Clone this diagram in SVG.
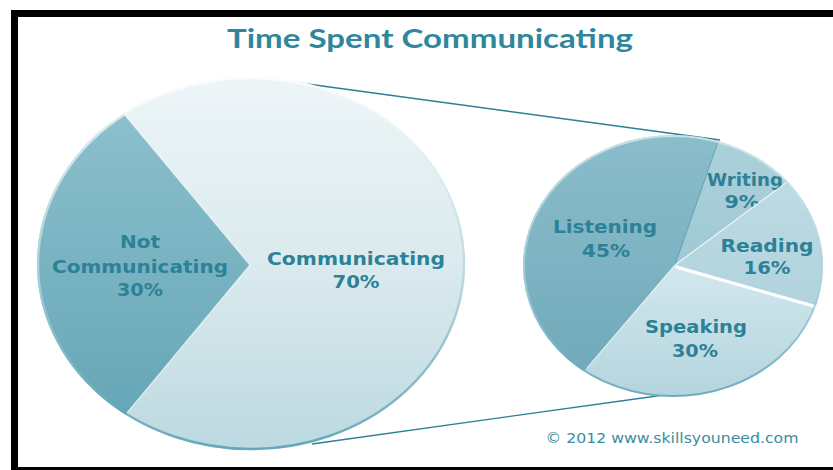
<svg xmlns="http://www.w3.org/2000/svg" width="833" height="470" viewBox="0 0 833 470">
<style>
.lbl{font-family:"DejaVu Sans","Liberation Sans",sans-serif;font-weight:bold;font-size:18px;fill:#2c8196;text-anchor:middle}
.conn{stroke:#2a7f94;stroke-width:1.3;fill:none}
.edge{stroke:#ffffff;stroke-opacity:0.6;stroke-width:1.5;fill:none}
</style>
<defs>
<linearGradient id="gComm" gradientUnits="userSpaceOnUse" x1="0" y1="77" x2="0" y2="450">
<stop offset="0" stop-color="#edf5f7"/><stop offset="0.5" stop-color="#dbeaee"/><stop offset="1" stop-color="#bcd9e1"/>
</linearGradient>
<linearGradient id="gNot" gradientUnits="userSpaceOnUse" x1="0" y1="110" x2="0" y2="415">
<stop offset="0" stop-color="#8cc0cd"/><stop offset="1" stop-color="#66a6b7"/>
</linearGradient>
<linearGradient id="gRimBig" gradientUnits="userSpaceOnUse" x1="0" y1="77" x2="0" y2="450">
<stop offset="0" stop-color="#ffffff"/><stop offset="0.5" stop-color="#b9d8e0"/><stop offset="1" stop-color="#4f9bb0"/>
</linearGradient>
<linearGradient id="gListen" gradientUnits="userSpaceOnUse" x1="0" y1="135" x2="0" y2="397">
<stop offset="0" stop-color="#8bbdcb"/><stop offset="1" stop-color="#6ea8b9"/>
</linearGradient>
<linearGradient id="gWrite" gradientUnits="userSpaceOnUse" x1="0" y1="135" x2="0" y2="270">
<stop offset="0" stop-color="#acd1db"/><stop offset="1" stop-color="#9fc8d4"/>
</linearGradient>
<linearGradient id="gRead" gradientUnits="userSpaceOnUse" x1="0" y1="180" x2="0" y2="310">
<stop offset="0" stop-color="#bddbe3"/><stop offset="1" stop-color="#b0d3dd"/>
</linearGradient>
<linearGradient id="gSpeak" gradientUnits="userSpaceOnUse" x1="0" y1="265" x2="0" y2="397">
<stop offset="0" stop-color="#d2e8ee"/><stop offset="1" stop-color="#b4d4dd"/>
</linearGradient>
<linearGradient id="gRimSmall" gradientUnits="userSpaceOnUse" x1="0" y1="135" x2="0" y2="397">
<stop offset="0" stop-color="#d8eaef"/><stop offset="0.6" stop-color="#a8cdd8"/><stop offset="1" stop-color="#5a9fb2"/>
</linearGradient>
<clipPath id="cBig"><ellipse cx="251" cy="263.5" rx="214" ry="186.5"/></clipPath>
<clipPath id="cSmall"><ellipse cx="673" cy="266" rx="150" ry="131"/></clipPath>
</defs>
<rect x="0" y="0" width="833" height="470" fill="#ffffff"/>
<rect x="14.5" y="13.5" width="840" height="457" fill="none" stroke="#000000" stroke-width="7"/>
<text x="430" y="48" font-family="Lato,'Open Sans',sans-serif" font-weight="bold" font-size="27" fill="#2f879c" text-anchor="middle" textLength="406" lengthAdjust="spacingAndGlyphs">Time Spent Communicating</text>
<g id="connectors">
<line class="conn" x1="278" y1="80" x2="720" y2="140"/>
<line class="conn" x1="312" y1="444" x2="664" y2="395"/>
</g>
<g id="communicating">
<ellipse cx="251" cy="263.5" rx="214" ry="186.5" fill="url(#gComm)"/>
<text class="lbl" x="356" y="265" textLength="178" lengthAdjust="spacingAndGlyphs">Communicating</text>
<text class="lbl" x="356" y="288" textLength="47" lengthAdjust="spacingAndGlyphs">70%</text>
</g>
<g id="not-communicating">
<polygon points="250,265 0,-35 -100,-35 -100,561 4,561" fill="url(#gNot)" clip-path="url(#cBig)"/>
<polyline class="edge" points="125,115 250,265 127,413"/>
<text class="lbl" x="140" y="248" textLength="40" lengthAdjust="spacingAndGlyphs">Not</text>
<text class="lbl" x="140" y="273" textLength="176" lengthAdjust="spacingAndGlyphs">Communicating</text>
<text class="lbl" x="140" y="296" textLength="46" lengthAdjust="spacingAndGlyphs">30%</text>
</g>
<ellipse cx="251" cy="263.5" rx="213" ry="185.5" fill="none" stroke="url(#gRimBig)" stroke-width="2.5" stroke-opacity="0.8"/>
<g id="listening">
<polygon points="675,265 761,19 400,19 400,471 499,471" fill="url(#gListen)" clip-path="url(#cSmall)"/>
<text class="lbl" x="605" y="233" textLength="104" lengthAdjust="spacingAndGlyphs">Listening</text>
<text class="lbl" x="606" y="257" textLength="48" lengthAdjust="spacingAndGlyphs">45%</text>
</g>
<g id="writing">
<polygon points="675,265 761,19 899,19 899,99" fill="url(#gWrite)" clip-path="url(#cSmall)"/>
<text class="lbl" x="745" y="186" textLength="76" lengthAdjust="spacingAndGlyphs">Writing</text>
<text class="lbl" x="742" y="208" textLength="35" lengthAdjust="spacingAndGlyphs">9%</text>
</g>
<g id="reading">
<polygon points="675,265 899,99 955,99 955,345" fill="url(#gRead)" clip-path="url(#cSmall)"/>
<text class="lbl" x="767" y="252" textLength="93" lengthAdjust="spacingAndGlyphs">Reading</text>
<text class="lbl" x="767" y="274" textLength="47" lengthAdjust="spacingAndGlyphs">16%</text>
</g>
<g id="speaking">
<polygon points="675,265 955,345 955,471 499,471" fill="url(#gSpeak)" clip-path="url(#cSmall)"/>
<line x1="676" y1="267" x2="820" y2="308" stroke="#ffffff" stroke-width="3"/>
<text class="lbl" x="696" y="333" textLength="102" lengthAdjust="spacingAndGlyphs">Speaking</text>
<text class="lbl" x="695" y="357" textLength="46" lengthAdjust="spacingAndGlyphs">30%</text>
</g>
<line x1="675" y1="265" x2="718" y2="142" stroke="#3f8ea3" stroke-width="1" stroke-opacity="0.7"/>
<line x1="675" y1="265" x2="787" y2="182" stroke="#ffffff" stroke-width="1.2" stroke-opacity="0.7"/>
<line x1="675" y1="265" x2="587" y2="368" stroke="#ffffff" stroke-width="1.2" stroke-opacity="0.5"/>
<ellipse cx="673" cy="266" rx="149" ry="130" fill="none" stroke="url(#gRimSmall)" stroke-width="2" stroke-opacity="0.8"/>
<text x="672" y="443" font-family="'DejaVu Sans',Verdana,sans-serif" font-size="13.5" fill="#3a8ea3" text-anchor="middle" textLength="253" lengthAdjust="spacingAndGlyphs">© 2012 www.skillsyouneed.com</text>
</svg>
